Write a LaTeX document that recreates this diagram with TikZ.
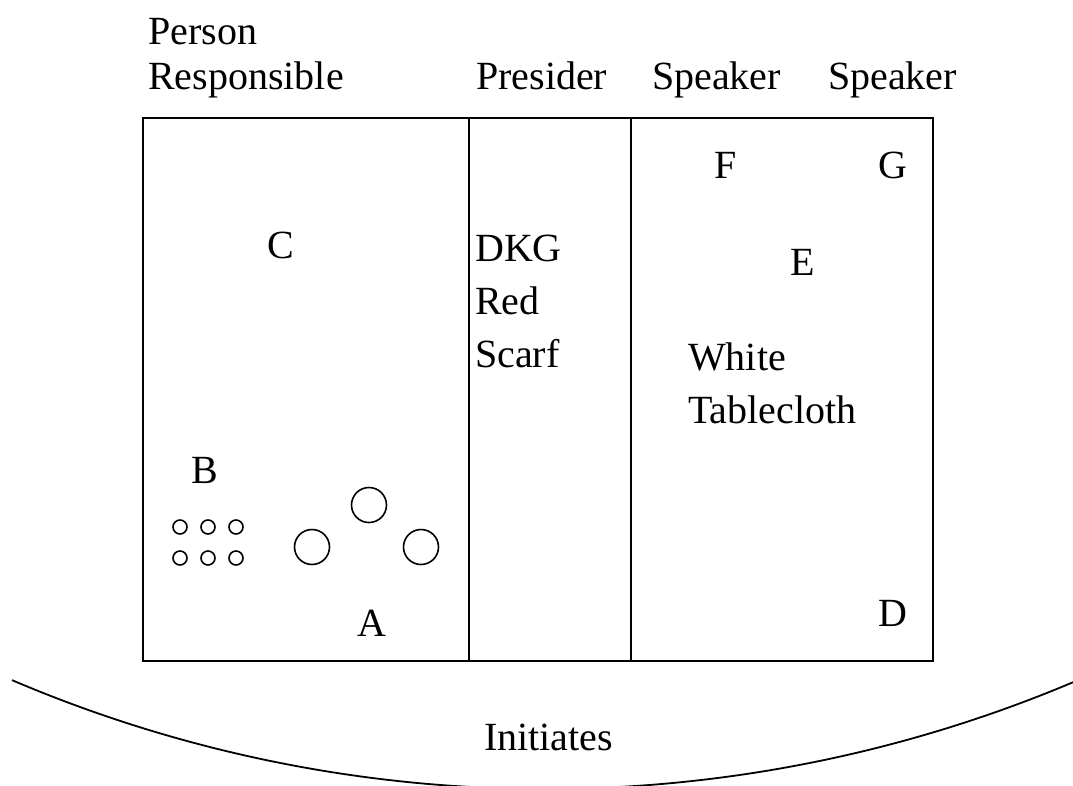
\documentclass[tikz,border=0pt]{standalone}
\usepackage{fontspec}
\setmainfont{Liberation Serif}
\begin{document}
\begin{tikzpicture}[x=1pt,y=-1pt,
  lbl/.style={anchor=base west,inner sep=0pt,font=\fontsize{40}{46}\selectfont},
  frame/.style={draw=black,line width=1.8pt},
  seat/.style={draw=black,line width=1.6pt,circle,inner sep=0pt}]
\useasboundingbox (0,0) rectangle (1073,785);
\clip (0,0) rectangle (1073,785);
% frame
\coordinate (tl) at (143,118);
\coordinate (br) at (933,661);
\draw[frame] (tl) rectangle (br);
\coordinate (d1t) at (469,118); \coordinate (d1b) at (469,661);
\coordinate (d2t) at (631,118); \coordinate (d2b) at (631,661);
\draw[frame] (d1t) -- (d1b);
\draw[frame] (d2t) -- (d2b);
% headings
\node[lbl] (person) at (148,44) {Person};
\node[lbl] (resp) at (148,89) {Responsible};
\node[lbl] (pres) at (476,89) {Presider};
\node[lbl] (sp1) at (652,89) {Speaker};
\node[lbl] (sp2) at (828,89) {Speaker};
% letters
\node[lbl] (F) at (714,178) {F};
\node[lbl] (G) at (878,178) {G};
\node[lbl] (C) at (267,258) {C};
\node[lbl] (E) at (790,275) {E};
\node[lbl] (dkg) at (475,261) {DKG};
\node[lbl] (red) at (475,314) {Red};
\node[lbl] (scarf) at (475,367) {Scarf};
\node[lbl] (white) at (688,370) {White};
\node[lbl] (cloth) at (688,423) {Tablecloth};
\node[lbl] (B) at (191,483) {B};
\node[lbl] (A) at (357,636) {A};
\node[lbl] (D) at (878,626) {D};
% small seats
\foreach \i/\x in {1/180,2/208,3/236}{
  \node[seat,minimum size=14pt] (s\i) at (\x,527) {};
  \node[seat,minimum size=14pt] (t\i) at (\x,558) {};
}
% large seats
\node[seat,minimum size=35pt] (c1) at (369,505) {};
\node[seat,minimum size=35pt] (c2) at (312,547) {};
\node[seat,minimum size=35pt] (c3) at (421,547) {};
% arc
\draw[frame] plot[domain=12:1073,samples=120,variable=\x]
  ({\x},{-570+100*sqrt(13.59*13.59-((\x-545)/100)*((\x-545)/100))});
\node[lbl] (init) at (484,750) {Initiates};
\end{tikzpicture}
\end{document}
